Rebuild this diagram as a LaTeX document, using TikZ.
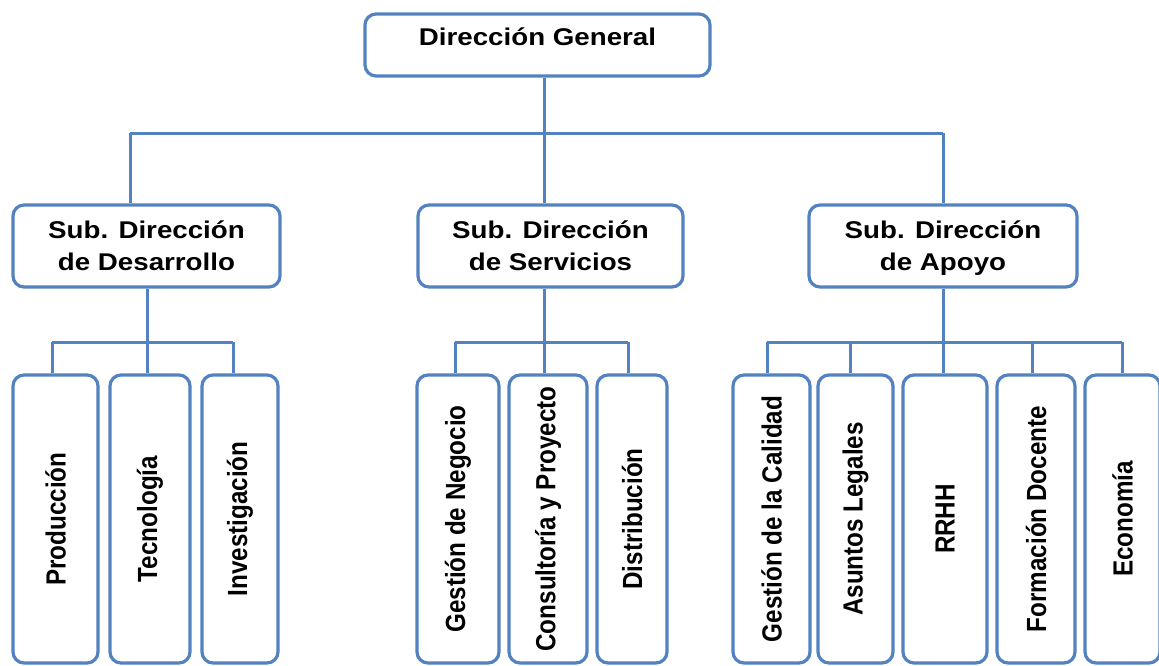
\documentclass[tikz,border=0pt]{standalone}
\usepackage{fontspec}
\usepackage{graphicx}
\newfontfamily\hfont{Liberation Sans}[FakeStretch=1.145]
\newfontfamily\vfont{Liberation Sans}[FakeStretch=0.874]
\definecolor{orgblue}{RGB}{83,130,192}
\tikzset{
  box/.style={draw=orgblue, line width=3.2pt, rounded corners=11pt, fill=white,
              inner sep=0pt, text=black},
  headbox/.style={box, font=\hfont\bfseries\fontsize{24.2}{32}\selectfont, align=center},
  unitbox/.style={box, minimum height=288pt, font=\vfont\bfseries\fontsize{27.7}{32}\selectfont},
  link/.style={draw=orgblue, line width=3pt}
}
\newcommand{\vtext}[1]{\rotatebox{90}{#1}}
\begin{document}
\begin{tikzpicture}[x=1pt, y=-1pt]
\useasboundingbox[fill=white] (0,0) rectangle (1159,665);

% top level
\node[headbox, anchor=base, minimum width=345pt, text height=31pt, text depth=31pt]
  (dg) at (537.5,45) {Dirección General};

% second level
\node[headbox, minimum width=267pt, minimum height=82pt] (sd1) at (146.5,246)
  {Sub. Dirección\\de Desarrollo};
\node[headbox, minimum width=265pt, minimum height=82pt] (sd2) at (550.5,246)
  {Sub. Dirección\\de Servicios};
\node[headbox, minimum width=268pt, minimum height=82pt, text depth=0pt] (sd3) at (943,246)
  {Sub. Dirección\\de Apoyo};

% third level
\node[unitbox, minimum width=85pt] (u11) at (55.5,519) {\vtext{Producción}};
\node[unitbox, minimum width=80pt] (u12) at (150,519) {\vtext{Tecnología}};
\node[unitbox, minimum width=76pt] (u13) at (240,519) {\vtext{Investigación}};

\node[unitbox, minimum width=82pt] (u21) at (458,519) {\vtext{Gestión de Negocio}};
\node[unitbox, minimum width=78pt] (u22) at (548,519) {\vtext{Consultoría y Proyecto}};
\node[unitbox, minimum width=70pt] (u23) at (632,519) {\vtext{Distribución}};

\node[unitbox, minimum width=77pt] (u31) at (771.5,519) {\vtext{Gestión de la Calidad}};
\node[unitbox, minimum width=75pt] (u32) at (855.5,519) {\vtext{Asuntos Legales}};
\node[unitbox, minimum width=84pt] (u33) at (945,519) {\vtext{RRHH}};
\node[unitbox, minimum width=78pt] (u34) at (1036,519) {\vtext{Formación Docente}};
\node[unitbox, minimum width=75pt] (u35) at (1122.5,519) {\vtext{Economía}};

% bus junctions
\coordinate (j0)  at (544,133);
\coordinate (j1)  at (130,133);
\coordinate (j2)  at (544,133);
\coordinate (j3)  at (943,133);

\coordinate (t11) at (52,342);
\coordinate (t12) at (147,342);
\coordinate (t13) at (233,342);
\coordinate (t21) at (455,342);
\coordinate (t22) at (544,342);
\coordinate (t23) at (628,342);
\coordinate (t31) at (767,342);
\coordinate (t32) at (850,342);
\coordinate (t33) at (943,342);
\coordinate (t34) at (1032,342);
\coordinate (t35) at (1122,342);

% top to second level
\draw[link] (dg.south -| j0) -- (j0);
\draw[link] (j1) -- (j3);
\draw[link] (j1) -- (j1 |- sd1.north);
\draw[link] (j2) -- (j2 |- sd2.north);
\draw[link] (j3) -- (j3 |- sd3.north);

% development branch
\draw[link] (sd1.south -| t12) -- (t12);
\draw[link] (t11) -- (t13);
\draw[link] (t11) -- (t11 |- u11.north);
\draw[link] (t12) -- (t12 |- u12.north);
\draw[link] (t13) -- (t13 |- u13.north);

% services branch
\draw[link] (sd2.south -| t22) -- (t22);
\draw[link] (t21) -- (t23);
\draw[link] (t21) -- (t21 |- u21.north);
\draw[link] (t22) -- (t22 |- u22.north);
\draw[link] (t23) -- (t23 |- u23.north);

% support branch
\draw[link] (sd3.south -| t33) -- (t33);
\draw[link] (t31) -- (t35);
\draw[link] (t31) -- (t31 |- u31.north);
\draw[link] (t32) -- (t32 |- u32.north);
\draw[link] (t33) -- (t33 |- u33.north);
\draw[link] (t34) -- (t34 |- u34.north);
\draw[link] (t35) -- (t35 |- u35.north);
\end{tikzpicture}
\end{document}
